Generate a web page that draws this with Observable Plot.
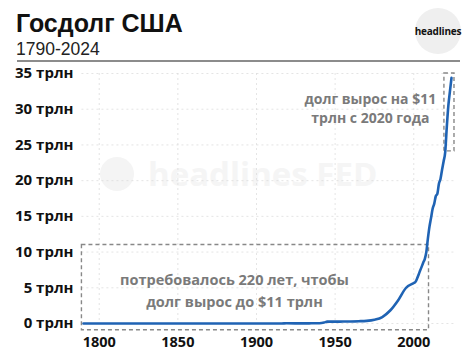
<!DOCTYPE html>
<html><head><meta charset="utf-8">
<script src="https://cdn.jsdelivr.net/npm/d3@7"></script>
<script src="https://cdn.jsdelivr.net/npm/@observablehq/plot@0.6"></script>
<style>
body{margin:0;background:#fff;}
#wrap{position:relative;width:474px;height:352px;overflow:hidden;background:#fff;}
#title{position:absolute;left:16px;top:10.5px;font:bold 25px/25px "Liberation Sans",Arial,sans-serif;color:#111;white-space:nowrap;}
#sub{position:absolute;left:16px;top:39.5px;font:17.5px/18px "Liberation Sans",Arial,sans-serif;color:#222;white-space:nowrap;}
#sep{position:absolute;left:17px;top:60px;width:443px;height:2px;background:#8c8c8c;}
#logo{position:absolute;left:415px;top:8px;width:46px;height:46px;border-radius:50%;background:#efefef;display:flex;align-items:center;justify-content:center;font:bold 10px "Open Sans",sans-serif;color:#111;letter-spacing:-0.2px;}
#wm{position:absolute;left:100px;top:156px;display:flex;align-items:center;gap:14px;color:#f5f5f5;font:bold 33px/36px "Open Sans",sans-serif;white-space:nowrap;pointer-events:none;}
#wm span.c{display:inline-block;width:34px;height:34px;border-radius:50%;background:#f4f4f4;}
#chart{position:absolute;left:0;top:62px;}
</style></head>
<body><div id="wrap">
<div id="title">Госдолг США</div>
<div id="sub">1790-2024</div>
<div id="sep"></div>
<div id="logo">headlines</div>
<div id="wm"><span class="c"></span><span>headlines FED</span></div>
<div id="chart"></div>
</div>
<script>
const years = [1790,1800,1810,1820,1835,1850,1860,1866,1880,1893,1900,1910,1916,1919,1930,1935,1940,1943,1945,1946,1950,1955,1960,1965,1970,1975,1980,1985,1990,1995,2000,2001,2002,2003,2004,2005,2006,2007,2008,2009,2010,2011,2012,2013,2014,2015,2016,2017,2018,2019,2020,2021,2022,2023,2024];
const debt = [0.00007,0.00008,0.00005,0.00009,0.0,0.00006,0.00006,0.0027,0.002,0.0016,0.0012,0.0011,0.0012,0.0255,0.0162,0.0287,0.043,0.137,0.259,0.269,0.257,0.274,0.286,0.317,0.371,0.533,0.908,1.82,3.23,4.97,5.67,5.81,6.23,6.78,7.38,7.93,8.51,9.01,10.02,11.91,13.56,14.79,16.07,16.74,17.82,18.15,19.57,20.24,21.52,22.72,24.0,27.5,30.5,32.5,34.4];
const yTicks = [0,5,10,15,20,25,30,35];
const xTicks = [1800,1850,1900,1950,2000];
const boxX1 = [1789, 2019.5];
const boxX2 = [2009.7, 2025.9];
const boxY1 = [-0.95, 24.1];
const boxY2 = [11.0, 35.0];
const noteText = ["долг вырос на $11\nтрлн с 2020 года", "потребовалось 220 лет, чтобы\nдолг вырос до $11 трлн"];
const noteX = [1972.4, 1886];
const noteY = [30.2, 4.8];

const series = years.map((y,i)=>({year:y, debt:debt[i]}));
const boxes = boxX1.map((d,i)=>({x1:d,x2:boxX2[i],y1:boxY1[i],y2:boxY2[i]}));
const notes = noteText.map((t,i)=>({text:t,x:noteX[i],y:noteY[i]}));

const font = '"Open Sans", sans-serif';
const chart = Plot.plot({
  width: 474, height: 290,
  marginLeft: 83, marginRight: 23, marginTop: 11, marginBottom: 29,
  style: {fontFamily: font, background: "transparent", overflow: "visible"},
  x: {domain: [1790, 2024]},
  y: {domain: [0, 35]},
  marks: [
    Plot.gridX(xTicks, {stroke: "#d8d8d8", strokeOpacity: 0.7, strokeDasharray: "2,3"}),
    Plot.gridY(yTicks, {stroke: "#d8d8d8", strokeOpacity: 0.7, strokeDasharray: "2,3", x1: 1789, x2: 2027}),
    Plot.axisY(yTicks, {tickSize: 0, tickPadding: 10, tickFormat: d => d + " трлн", fontSize: 15, fontWeight: "bold", fill: "#111", label: null}),
    Plot.axisX(xTicks, {tickSize: 0, tickPadding: 13, tickFormat: d => String(d), fontSize: 14.5, fontWeight: "bold", fill: "#111", label: null}),
    Plot.rect(boxes, {x1: "x1", x2: "x2", y1: "y1", y2: "y2", fill: "none", stroke: "#888", strokeWidth: 1.4, strokeDasharray: "4,3"}),
    Plot.text([notes[0]], {x: "x", y: "y", text: "text", fill: "#7a7a7a", fontSize: 14, fontWeight: "bold", lineHeight: 1.36}),
    Plot.text([notes[1]], {x: "x", y: "y", text: "text", fill: "#7a7a7a", fontSize: 14.5, fontWeight: "bold", lineHeight: 1.5}),
    Plot.line(series, {x: "year", y: "debt", stroke: "#1f63b4", strokeWidth: 2.6, curve: "monotone-x"})
  ]
});
document.getElementById("chart").appendChild(chart);
</script>
</body></html>
